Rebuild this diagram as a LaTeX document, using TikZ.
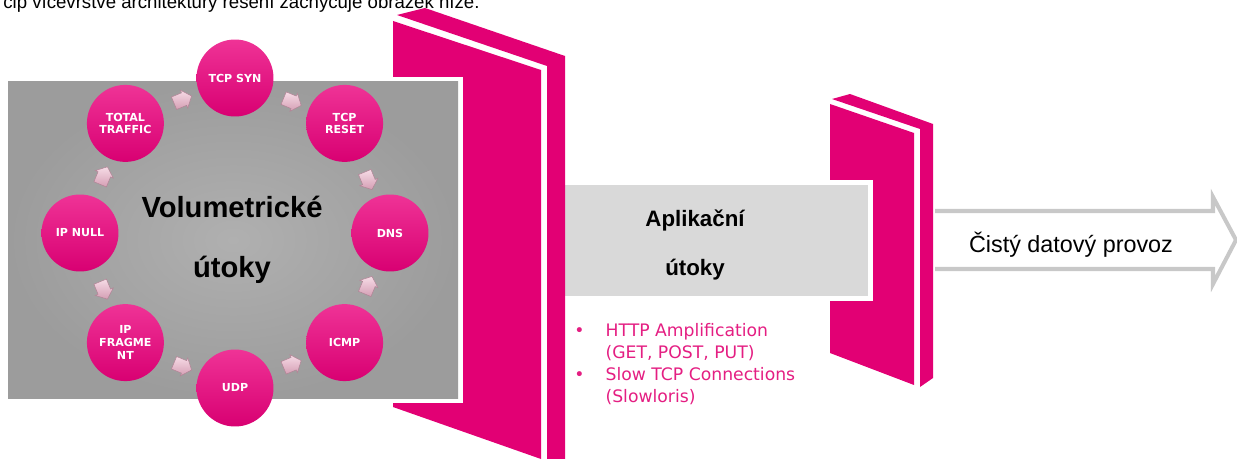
\documentclass[tikz,border=0pt]{standalone}
\usepackage{fontspec}
\setmainfont{Liberation Sans}
\newfontfamily\verd{DejaVu Sans}
\usepackage{xcolor}
\usetikzlibrary{shapes.arrows}
\definecolor{tmag}{RGB}{226,0,116}
\definecolor{ballmag}{RGB}{235,0,124}
\definecolor{gronein}{RGB}{176,176,176}
\definecolor{groneout}{RGB}{156,156,156}
\definecolor{lightgr}{RGB}{217,217,217}
\definecolor{flowpink}{RGB}{236,176,200}
\definecolor{textmag}{RGB}{228,30,130}
\definecolor{arrowgr}{RGB}{200,200,200}

\begin{document}
\begin{tikzpicture}[x=0.02cm,y=0.02cm,
  ball/.style={circle,minimum size=1.54cm,inner sep=0pt,align=center,text=white,
    top color=ballmag!80!white,middle color=ballmag,bottom color=ballmag!92!black,
    font=\verd\bfseries\fontsize{6.3}{7.3}\selectfont},
  flow/.style={single arrow,sloped,draw=flowpink!75!black,line width=0.3pt,
    top color=flowpink!45!white,bottom color=flowpink!90!black,shading angle=0,
    text height=0.13cm,text depth=0.13cm,text width=0pt,minimum height=0.38cm,
    single arrow head extend=0.06cm,single arrow tip angle=100,inner sep=0pt}]
\useasboundingbox (0,0) rectangle (1237,-459);

\node[anchor=base west,inner sep=0pt,font=\fontsize{10.6}{12}\selectfont] (intro) at (3,-9) {cip vícevrstvé architektury řešení zachycuje obrázek níže.};

\fill[tmag] (832,-99) -- (850,-94) -- (933,-124) -- (933,-378) -- (920,-387) -- (920,-129) -- cycle;
\fill[tmag] (830,-104) -- (914,-133) -- (914,-385) -- (830,-353) -- cycle;
\fill[white] (560,-180) rectangle (873,-301);
\fill[lightgr] (565,-185) rectangle (868,-296);

\fill[tmag] (397,-15) -- (425,-8) -- (565,-56) -- (565,-459) -- (547,-466) -- (547,-66) -- cycle;
\fill[tmag] (393,-21) -- (541,-70) -- (541,-459) -- (393,-407) -- cycle;
\fill[white] (3,-77) rectangle (463,-403);
\shade[inner color=gronein,outer color=groneout] (8,-82) rectangle (458,-398);

\coordinate (ring) at (235,-233);
\path (ring) ++(90:155) node[ball] (syn) {TCP SYN};
\path (ring) ++(45:155) node[ball] (rst) {TCP\\RESET};
\path (ring) ++(0:155) node[ball] (dns) {DNS};
\path (ring) ++(-45:155) node[ball] (icmp) {ICMP};
\path (ring) ++(-90:155) node[ball] (udp) {UDP};
\path (ring) ++(-135:155) node[ball] (frag) {IP\\FRAGME\\NT};
\path (ring) ++(180:155) node[ball] (null) {IP NULL};
\path (ring) ++(135:155) node[ball] (total) {TOTAL\\TRAFFIC};

\path (total) -- node[flow] {} (syn);
\path (syn) -- node[flow] {} (rst);
\path (rst) -- node[flow] {} (dns);
\path (dns) -- node[flow] {} (icmp);
\path (icmp) -- node[flow] {} (udp);
\path (udp) -- node[flow] {} (frag);
\path (frag) -- node[flow] {} (null);
\path (null) -- node[flow] {} (total);

\node[align=center,font=\bfseries\fontsize{16.6}{34}\selectfont] (voltxt) at (232,-240) {Volumetrické\\útoky};
\node[align=center,font=\bfseries\fontsize{12.7}{28}\selectfont] (apptxt) at (695,-245) {Aplikační\\útoky};
\node[anchor=north west,inner sep=0pt,text=textmag,font=\verd\fontsize{9.8}{12.5}\selectfont] (apps) at (574,-321)
  {\begin{tabular}{@{}l@{\hspace{12pt}}l@{}}•&HTTP Amplification\\&(GET, POST, PUT)\\•&Slow TCP Connections\\&(Slowloris)\end{tabular}};

\draw[arrowgr,line width=2.3pt,line join=miter] (935,-211) -- (1213,-211) -- (1213,-197) -- (1236,-240) -- (1213,-284) -- (1213,-269) -- (935,-269);
\node[font=\fontsize{13.3}{16}\selectfont] (clean) at (1071,-245) {Čistý datový provoz};
\end{tikzpicture}
\end{document}
